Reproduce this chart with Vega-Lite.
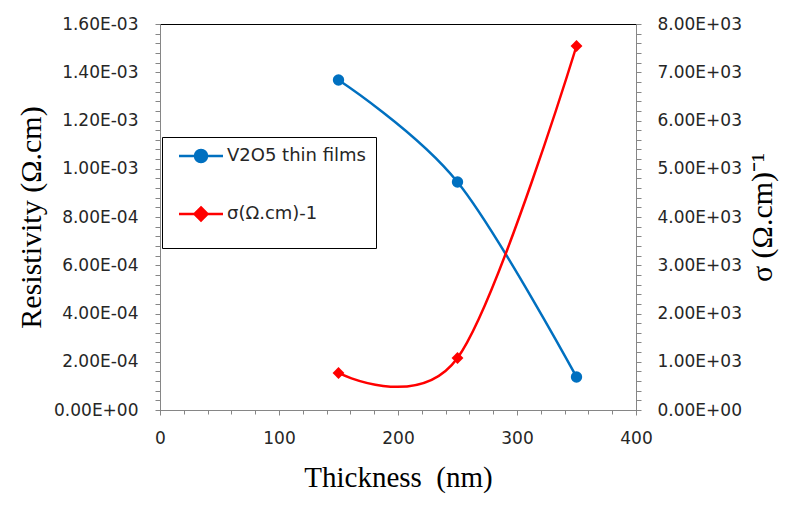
{
  "$schema": "https://vega.github.io/schema/vega-lite/v6.json",
  "width": 476,
  "height": 386,
  "autosize": {"type": "none"},
  "padding": {"left": 160, "top": 24, "right": 158, "bottom": 104},
  "background": "white",
  "config": {
    "view": {"stroke": "#000000", "strokeWidth": 1},
    "axis": {
      "labelFont": "DejaVu Sans",
      "labelFontSize": 17,
      "labelColor": "#262626",
      "labelFlush": false,
      "titleFont": "Liberation Serif",
      "titleFontSize": 29,
      "titleFontWeight": "normal",
      "titleColor": "#000000",
      "domainColor": "#868686",
      "tickColor": "#868686",
      "grid": false,
      "tickSize": 5
    }
  },
  "data": {
    "values": [
      {"t": 150, "series": "V2O5 thin films", "v": 0.001368},
      {"t": 250, "series": "V2O5 thin films", "v": 0.000945},
      {"t": 350, "series": "V2O5 thin films", "v": 0.000137},
      {"t": 150, "series": "σ(Ω.cm)-1", "v": 767},
      {"t": 250, "series": "σ(Ω.cm)-1", "v": 1078},
      {"t": 350, "series": "σ(Ω.cm)-1", "v": 7544}
    ]
  },
  "layer": [
    {
      "transform": [{"filter": "datum.series === 'V2O5 thin films'"}],
      "encoding": {
        "x": {
          "field": "t", "type": "quantitative",
          "scale": {"domain": [0, 400]},
          "axis": {"title": "Thickness\u00a0\u00a0(nm)", "values": [0, 100, 200, 300, 400], "labelPadding": 15, "titlePadding": 17}
        },
        "y": {
          "field": "v", "type": "quantitative",
          "scale": {"domain": [0, 0.0016]},
          "axis": {
            "orient": "left",
            "title": "Resistivity (Ω.cm)",
            "titleFontSize": 30,
            "values": [0, 0.0002, 0.0004, 0.0006, 0.0008, 0.001, 0.0012, 0.0014, 0.0016],
            "labelPadding": 17,
            "titlePadding": 7,
            "labelExpr": "datum.value == 0 ? '0.00E+00' : datum.value >= 0.00099 ? format(datum.value*1000,'.2f') + 'E-03' : format(datum.value*10000,'.2f') + 'E-04'"
          }
        },
        "color": {
          "field": "series", "type": "nominal",
          "scale": {"domain": ["V2O5 thin films", "σ(Ω.cm)-1"], "range": ["#0070C0", "#FF0000"]},
          "legend": {
            "title": "\u00a0",
            "titleOrient": "bottom",
            "titleFontSize": 12,
            "titlePadding": 1,
            "orient": "none",
            "legendX": 2,
            "legendY": 113,
            "strokeColor": "#000000",
            "fillColor": "#ffffff",
            "padding": 10,
            "rowPadding": 35,
            "symbolSize": 100,
            "symbolOffset": 20,
            "labelOffset": 17,
            "labelFont": "DejaVu Sans",
            "labelFontSize": 18,
            "labelColor": "#262626",
            "encode": {
              "symbols": {
                "update": {
                  "shape": {"signal": "datum.value === 'V2O5 thin films' ? 'M-4.4,0L4.4,0M1.2,0A1.2,1.2,0,1,1,-1.2,0A1.2,1.2,0,1,1,1.2,0Z' : 'M-4.4,0L4.4,0M0,-1.3L1.3,0L0,1.3L-1.3,0Z'"},
                  "stroke": {"signal": "datum.value === 'V2O5 thin films' ? '#0070C0' : '#FF0000'"},
                  "fill": {"signal": "datum.value === 'V2O5 thin films' ? '#0070C0' : '#FF0000'"},
                  "strokeWidth": {"value": 2.5},
                  "opacity": {"value": 1}
                }
              }
            }
          }
        }
      },
      "layer": [
        {"mark": {"type": "line", "interpolate": "cardinal", "strokeWidth": 2.5}},
        {"mark": {"type": "point", "filled": true, "shape": "circle", "size": 130, "opacity": 1}}
      ]
    },
    {
      "transform": [{"filter": "datum.series !== 'V2O5 thin films'"}],
      "encoding": {
        "x": {"field": "t", "type": "quantitative", "scale": {"domain": [0, 400]}, "axis": null},
        "y": {
          "field": "v", "type": "quantitative",
          "scale": {"domain": [0, 8000]},
          "axis": {
            "orient": "right",
            "title": "σ (Ω.cm)⁻¹",
            "titleFontSize": 30,
            "titleAngle": 270,
            "values": [0, 1000, 2000, 3000, 4000, 5000, 6000, 7000, 8000],
            "labelPadding": 16,
            "titlePadding": 36,
            "labelExpr": "datum.value == 0 ? '0.00E+00' : format(datum.value/1000,'.2f') + 'E+03'"
          }
        },
        "color": {"field": "series", "type": "nominal"}
      },
      "layer": [
        {"mark": {"type": "line", "interpolate": "cardinal", "strokeWidth": 2.5}},
        {"mark": {"type": "point", "filled": true, "shape": "diamond", "size": 140, "opacity": 1}}
      ]
    },
    {
      "transform": [{"filter": "datum.series === 'V2O5 thin films'"}],
      "mark": {"type": "point", "opacity": 0},
      "encoding": {
        "x": {
          "field": "t", "type": "quantitative", "scale": {"domain": [0, 400]},
          "axis": {"orient": "bottom", "title": null, "labels": false, "domain": false, "tickSize": 4,
            "values": [20, 40, 60, 80, 120, 140, 160, 180, 220, 240, 260, 280, 320, 340, 360, 380]}
        },
        "y": {
          "field": "v", "type": "quantitative", "scale": {"domain": [0, 0.0016]},
          "axis": {"orient": "left", "title": null, "labels": false, "domain": false, "tickSize": 5,
            "values": [0.00004, 0.00008, 0.00012, 0.00016, 0.00024, 0.00028, 0.00032, 0.00036, 0.00044, 0.00048, 0.00052, 0.00056, 0.00064, 0.00068, 0.00072, 0.00076, 0.00084, 0.00088, 0.00092, 0.00096, 0.00104, 0.00108, 0.00112, 0.00116, 0.00124, 0.00128, 0.00132, 0.00136, 0.00144, 0.00148, 0.00152, 0.00156]}
        }
      }
    },
    {
      "transform": [{"filter": "datum.series !== 'V2O5 thin films'"}],
      "mark": {"type": "point", "opacity": 0},
      "encoding": {
        "x": {"field": "t", "type": "quantitative", "scale": {"domain": [0, 400]}, "axis": null},
        "y": {
          "field": "v", "type": "quantitative", "scale": {"domain": [0, 8000]},
          "axis": {"orient": "right", "title": null, "labels": false, "domain": false, "tickSize": 5,
            "values": [200, 400, 600, 800, 1200, 1400, 1600, 1800, 2200, 2400, 2600, 2800, 3200, 3400, 3600, 3800, 4200, 4400, 4600, 4800, 5200, 5400, 5600, 5800, 6200, 6400, 6600, 6800, 7200, 7400, 7600, 7800]}
        }
      }
    }
  ],
  "resolve": {"scale": {"y": "independent"}, "axis": {"y": "independent", "x": "independent"}}
}
